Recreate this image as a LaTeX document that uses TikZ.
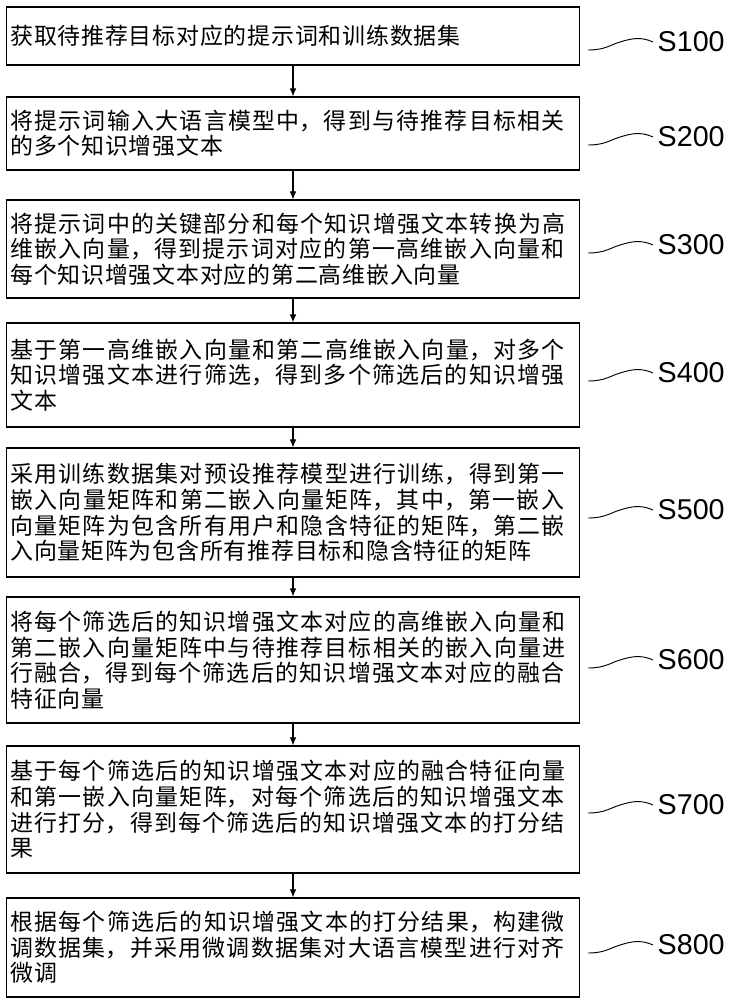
\documentclass[tikz,border=0pt]{standalone}
\usepackage{fontspec}
\setmainfont{Liberation Sans}
\newfontfamily\cjk{Noto Sans CJK SC}
\XeTeXlinebreaklocale "zh"
\XeTeXlinebreakskip=0.6pt plus 1.5pt
\newcommand\cjpar{\leftskip=0pt plus 1fil\rightskip=0pt plus -1fil\parfillskip=0pt plus 2fil\parindent=0pt}
\usetikzlibrary{arrows.meta}
\begin{document}
\begin{tikzpicture}[x=0.75pt,y=-0.75pt,
 stepbox/.style={draw,line width=0.9pt,minimum width=430pt,text width=424pt,inner sep=0pt,font=\cjk\fontsize{17.2}{19.2}\selectfont},
 lab/.style={font=\fontsize{21.5}{24}\selectfont,anchor=west},
 arr/.style={-{Latex[length=6pt,width=5pt]},line width=0.8pt},
 wave/.style={line width=0.7pt}]
\useasboundingbox (0,0) rectangle (736,1000);
\def\bx#1#2#3#4{\node[stepbox,minimum height=#3*0.75pt] (#1) at (293,#2) {\cjpar #4};}
\bx{b1}{36}{58}{获取待推荐目标对应的提示词和训练数据集}
\bx{b2}{133.5}{73}{将提示词输入大语言模型中，得到与待推荐目标相关的多个知识增强文本}
\bx{b3}{249}{98}{将提示词中的关键部分和每个知识增强文本转换为高维嵌入向量，得到提示词对应的第一高维嵌入向量和每个知识增强文本对应的第二高维嵌入向量}
\bx{b4}{375}{104}{基于第一高维嵌入向量和第二高维嵌入向量，对多个知识增强文本进行筛选，得到多个筛选后的知识增强文本}
\bx{b5}{512.5}{129}{采用训练数据集对预设推荐模型进行训练，得到第一嵌入向量矩阵和第二嵌入向量矩阵，其中，第一嵌入向量矩阵为包含所有用户和隐含特征的矩阵，第二嵌入向量矩阵为包含所有推荐目标和隐含特征的矩阵}
\bx{b6}{660}{126}{将每个筛选后的知识增强文本对应的高维嵌入向量和第二嵌入向量矩阵中与待推荐目标相关的嵌入向量进行融合，得到每个筛选后的知识增强文本对应的融合特征向量}
\bx{b7}{809.5}{127}{基于每个筛选后的知识增强文本对应的融合特征向量和第一嵌入向量矩阵，对每个筛选后的知识增强文本进行打分，得到每个筛选后的知识增强文本的打分结果}
\bx{b8}{947.5}{99}{根据每个筛选后的知识增强文本的打分结果，构建微调数据集，并采用微调数据集对大语言模型进行对齐微调}
\foreach \a/\b in {b1/b2,b2/b3,b3/b4,b4/b5,b5/b6,b6/b7,b7/b8} \draw[arr] (\a.south) -- (\b.north);
\foreach \n/\y/\t in {1/42/S100,2/137/S200,3/245/S300,4/373/S400,5/510/S500,6/660/S600,7/805/S700,8/945/S800}{
 \node[lab] (l\n) at (653,\y) {\t};
 \coordinate (w\n) at (588,\y+8);
 \draw[wave] (w\n) .. controls (605,\y+8) and (610,\y+3) .. (620,\y)
   .. controls (630,\y-3) and (640,\y-6) .. (l\n.west);
}
\end{tikzpicture}
\end{document}
